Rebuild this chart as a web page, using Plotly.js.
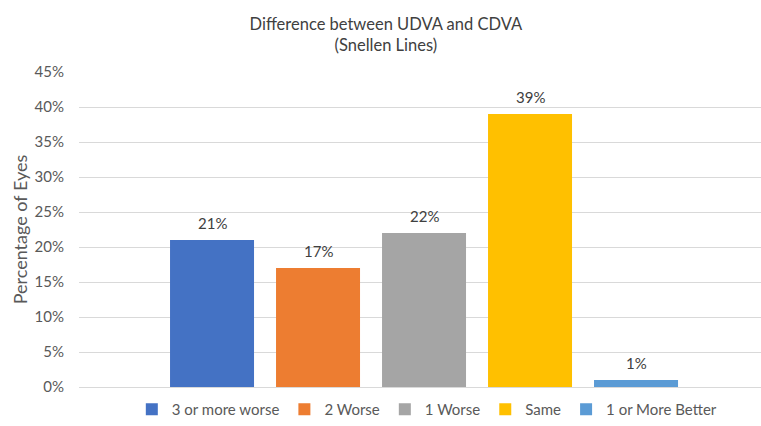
<!DOCTYPE html>
<html>
<head>
<meta charset="utf-8">
<script src="https://cdn.plot.ly/plotly-3.0.1.min.js"></script>
<style>html,body{margin:0;padding:0;background:#fff}#chart{width:761px;height:426px}</style>
</head>
<body>
<div id="chart"></div>
<script>
var seriesNames = ["3 or more worse", "2 Worse", "1 Worse", "Same", "1 or More Better"];
var seriesValues = [21, 17, 22, 39, 1];
var seriesColors = ["#4472C4", "#ED7D31", "#A5A5A5", "#FFC000", "#5B9BD5"];
var yTickVals = [0, 5, 10, 15, 20, 25, 30, 35, 40, 45];
var yTickText = ["0%", "5%", "10%", "15%", "20%", "25%", "30%", "35%", "40%", "45%"];

var FONT = "Lato, 'Open Sans', sans-serif";
var traces = seriesNames.map(function (name, i) {
  return {
    type: "bar",
    name: name,
    x: [name],
    y: [seriesValues[i]],
    width: 0.7925,
    marker: { color: seriesColors[i] },
    hoverinfo: "none"
  };
});

var annotations = seriesNames.map(function (name, i) {
  return {
    x: name, y: seriesValues[i], xref: "x", yref: "y",
    text: seriesValues[i] + "%",
    showarrow: false,
    xanchor: "center", yanchor: "bottom",
    yshift: 6,
    font: { family: FONT, size: 15, color: "#404040" }
  };
});

var layout = {
  width: 761,
  height: 426,
  paper_bgcolor: "#ffffff",
  plot_bgcolor: "#ffffff",
  margin: { l: 79, r: 0, t: 72, b: 38 },
  barmode: "overlay",
  font: { family: FONT, size: 15, color: "#595959" },
  title: {
    text: "Difference between UDVA and CDVA<br>(Snellen Lines)",
    font: { family: FONT, size: 16.5, color: "#404040" },
    x: 0.507, xref: "container", xanchor: "center",
    y: 0.93, yref: "container", yanchor: "top"
  },
  xaxis: {
    type: "category",
    categoryorder: "array",
    categoryarray: seriesNames,
    range: [-1.255, 5.179],
    showticklabels: false,
    showgrid: false,
    zeroline: false,
    showline: false,
    fixedrange: true
  },
  yaxis: {
    range: [0, 45],
    tickvals: yTickVals,
    ticktext: yTickText,
    showgrid: true,
    gridcolor: "#d9d9d9",
    gridwidth: 1,
    zeroline: true,
    zerolinecolor: "#d9d9d9",
    zerolinewidth: 1,
    showline: false,
    ticks: "",
    ticklabelstandoff: 14,
    tickfont: { family: FONT, size: 15, color: "#595959" },
    title: { text: "Percentage of Eyes", font: { family: FONT, size: 18, color: "#595959" }, standoff: 2 },
    automargin: false,
    fixedrange: true
  },
  annotations: annotations,
  showlegend: true,
  legend: {
    orientation: "h",
    x: 0.51, xanchor: "center",
    y: -0.07, yanchor: "middle",
    font: { family: FONT, size: 15, color: "#595959" },
    itemwidth: 30,
    traceorder: "normal"
  }
};

Plotly.newPlot("chart", traces, layout, { displayModeBar: false, staticPlot: true });
</script>
</body>
</html>
